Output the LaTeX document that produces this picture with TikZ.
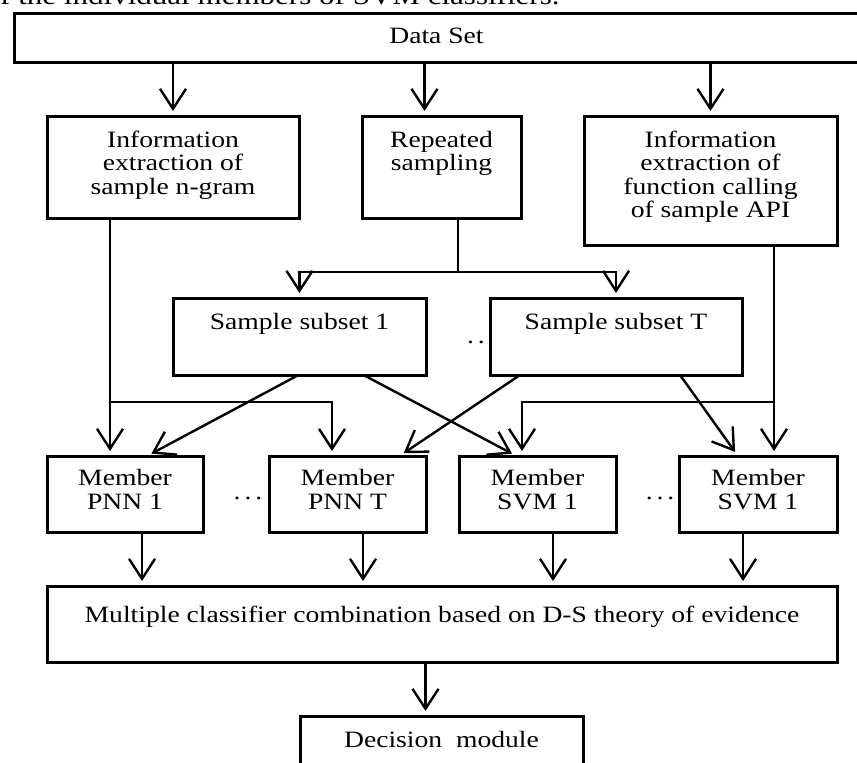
\documentclass[tikz,border=0pt]{standalone}
\usepackage{fontspec}
\setmainfont{Liberation Serif}[FakeStretch=1.18]
\usepackage{tikz}
\usetikzlibrary{arrows.meta,positioning}
\newcommand{\boxfont}{\fontsize{23.4}{23.5}\selectfont}
\tikzset{
  unitbox/.style={
    rectangle,
    draw=black,
    line width=3pt,
    align=center,
    inner sep=0pt,
    outer sep=0pt,
    text height=31pt,
    font=\boxfont
  },
  dotmark/.style={
    anchor=base,
    inner sep=0pt,
    font=\boxfont
  },
  linkline/.style={
    line width=2.4pt,
    draw=black
  },
  linkarrow/.style={
    -{Straight Barb[length=20pt,width=26pt]},
    line width=2.4pt,
    draw=black,
    shorten >=5pt
  }
}

\begin{document}
\begin{tikzpicture}[x=1pt,y=-1pt]
\useasboundingbox (0,0) rectangle (857,763);
\clip (0,0) rectangle (857,763);

\node[anchor=base west, inner sep=0pt, font=\fontsize{26.3}{28}\selectfont] (caption) at (-15.5,4.5) {of the individual members of SVM classifiers.};

% sources (text height = baseline of the last line)
\node[unitbox, anchor=north west, minimum width=845pt, text height=30pt, text depth=19pt] (data) at (14,13) {Data Set};
\node[unitbox, anchor=north west, minimum width=252pt, text height=78pt, text depth=24pt] (ngram) at (47,116) {Information\\extraction of\\sample n-gram};
\node[unitbox, minimum width=159pt, text height=54.5pt, text depth=47.5pt, right=63pt of ngram.north east, anchor=north west] (resample) {Repeated\\sampling};
\node[unitbox, minimum width=253pt, text height=101.5pt, text depth=27.5pt, right=63pt of resample.north east, anchor=north west] (apicall) {Information\\extraction of\\function calling\\of sample API};

% sample subsets
\node[unitbox, anchor=north west, minimum width=253pt, text depth=46pt] (sub1) at (173,298) {Sample subset 1};
\node[unitbox, minimum width=252pt, text depth=46pt, right=64pt of sub1] (subT) {Sample subset T};

% members
\node[unitbox, anchor=north west, minimum width=156pt, text height=53pt, text depth=23pt] (pnn1) at (47,456) {Member\\PNN 1};
\node[unitbox, minimum width=157pt, text height=53pt, text depth=23pt, right=66pt of pnn1] (pnnT) {Member\\PNN T};
\node[unitbox, minimum width=157pt, text height=53pt, text depth=23pt, right=33pt of pnnT] (svm1) {Member\\SVM 1};
\node[unitbox, minimum width=158pt, text height=53pt, text depth=23pt, right=63pt of svm1] (svmT) {Member\\SVM 1};

% combination and decision
\node[unitbox, anchor=north west, minimum width=790pt, text height=36pt, text depth=40pt] (comb) at (47,586) {Multiple classifier combination based on D-S theory of evidence};
\node[unitbox, anchor=north west, minimum width=283pt, text depth=29pt] (dec) at (300,716) {Decision\ \ module};

\node[dotmark] (subdots) at (476,343.5) {.\,.};
\node[dotmark] (pnndots) at (248,499.5) {.\,.\,.};
\node[dotmark] (svmdots) at (660,499.5) {.\,.\,.};

\coordinate (gramfork) at ([xshift=63pt,yshift=54pt]pnn1.north west);
\coordinate (apifork) at ([xshift=95pt,yshift=54pt]svmT.north west);
\coordinate (samplefork) at ([xshift=96pt,yshift=-54pt]resample.south west);

\draw[linkarrow] (data.south -| ngram.north) -- (ngram.north);
\draw[linkarrow] ([xshift=-17pt]resample.north |- data.south) -- ([xshift=-17pt]resample.north);
\draw[linkarrow] (data.south -| apicall.north) -- (apicall.north);

\draw[linkline] ([xshift=96pt]resample.south west) -- (samplefork);
\draw[linkarrow] (samplefork) -| (sub1.north);
\draw[linkarrow] (samplefork) -| (subT.north);

\draw[linkarrow] ([xshift=63pt]ngram.south west) -- ([xshift=63pt]pnn1.north west);
\draw[linkarrow] (gramfork) -| ([xshift=63pt]pnnT.north west);
\draw[linkarrow] ([xshift=190pt]apicall.south west) -- ([xshift=95pt]svmT.north west);
\draw[linkarrow] (apifork) -| ([xshift=63pt]svm1.north west);

\draw[linkarrow] ([xshift=-1pt]sub1.south) -- ([xshift=22pt]pnn1.north);
\draw[linkarrow] ([xshift=64pt]sub1.south) -- ([xshift=-21pt]svm1.north);
\draw[linkarrow] ([xshift=-96pt]subT.south) -- ([xshift=52pt]pnnT.north);
\draw[linkarrow] ([xshift=64pt]subT.south) -- ([xshift=-20pt]svmT.north);

\draw[linkarrow] ([xshift=95pt]pnn1.south west) -- ([xshift=95pt]pnn1.south west |- comb.north);
\draw[linkarrow] ([xshift=94pt]pnnT.south west) -- ([xshift=94pt]pnnT.south west |- comb.north);
\draw[linkarrow] ([xshift=94pt]svm1.south west) -- ([xshift=94pt]svm1.south west |- comb.north);
\draw[linkarrow] ([xshift=64pt]svmT.south west) -- ([xshift=64pt]svmT.south west |- comb.north);

\draw[linkarrow] ([xshift=-16pt]dec.north |- comb.south) -- ([xshift=-16pt]dec.north);
\end{tikzpicture}
\end{document}
